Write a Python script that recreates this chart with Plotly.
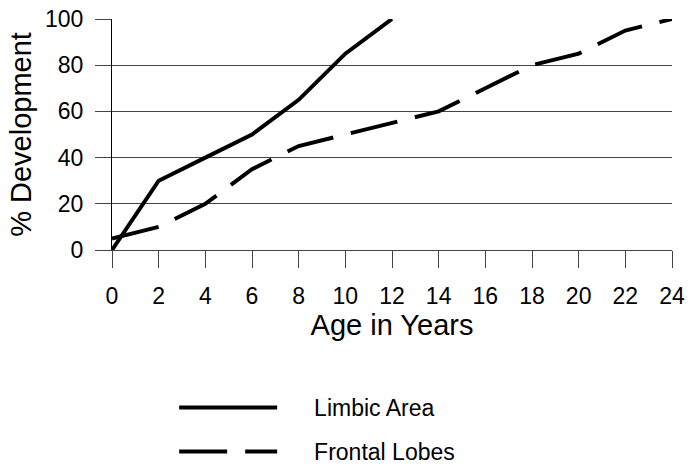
import plotly.graph_objects as go

ages_limbic = [0, 2, 4, 6, 8, 10, 12]
limbic = [0, 30, 40, 50, 65, 85, 100]
ages_frontal = [0, 2, 4, 6, 8, 10, 12, 14, 16, 18, 20, 22, 24]
frontal = [5, 10, 20, 35, 45, 50, 55, 60, 70, 80, 85, 95, 100]
x_ticks = list(range(0, 25, 2))
y_ticks = [0, 20, 40, 60, 80, 100]

FONT = "Liberation Sans, Arial, sans-serif"
NB = "\u00a0"

fig = go.Figure()
fig.add_trace(go.Scatter(x=ages_limbic, y=limbic, mode="lines", name=NB * 5 + "Limbic Area",
                         legendgroup="a",
                         line=dict(color="black", width=4), cliponaxis=False))
fig.add_trace(go.Scatter(x=ages_frontal, y=frontal, mode="lines", name=NB * 5 + "Frontal Lobes",
                         legendgroup="b",
                         line=dict(color="black", width=4, dash="48px,18px"), cliponaxis=False))

fig.update_layout(
    width=689, height=465,
    margin=dict(l=112, r=17, t=19, b=215, autoexpand=False),
    paper_bgcolor="white", plot_bgcolor="white",
    font=dict(family=FONT, size=24, color="black"),
    showlegend=True,
    legend=dict(x=0.111, y=-0.589, xanchor="left", yanchor="top",
                itemwidth=98, tracegroupgap=11, font=dict(size=23),
                bgcolor="rgba(0,0,0,0)"),
    xaxis=dict(range=[0, 24], tickvals=x_ticks, showgrid=False, zeroline=False,
               showline=True, linecolor="#444", linewidth=1, automargin=False,
               ticks="outside", ticklen=17, tickcolor="#444", tickwidth=1,
               ticklabelstandoff=8,
               title=dict(text="Age in Years", standoff=2),
               tickfont=dict(size=23)),
    yaxis=dict(range=[0, 100], tickvals=y_ticks, showgrid=True, gridcolor="#444", gridwidth=1,
               zeroline=False, showline=True, linecolor="black", linewidth=1, automargin=False,
               ticks="outside", ticklen=16, tickcolor="#444", tickwidth=1,
               ticklabelstandoff=7,
               title=dict(text="% Development", standoff=4),
               tickfont=dict(size=23)),
)

fig.write_html("out.html", config={"displayModeBar": False},
               post_script="document.body.style.margin='0';document.body.style.overflow='hidden';")
